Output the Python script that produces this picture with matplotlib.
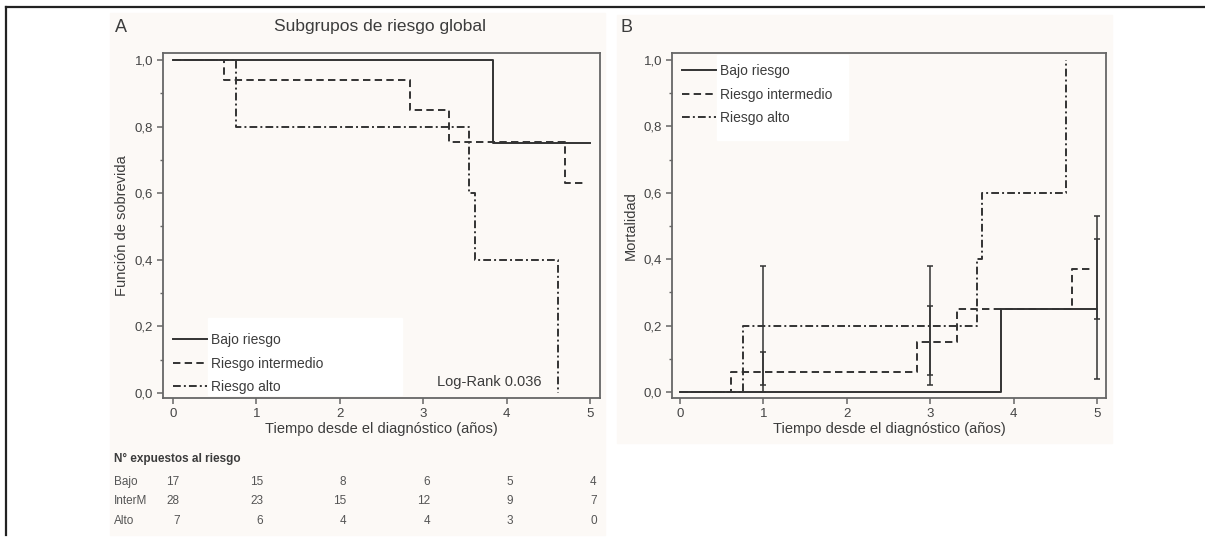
import numpy as np
import matplotlib
matplotlib.use("Agg")
import matplotlib.pyplot as plt
from matplotlib.patches import Rectangle
from matplotlib.lines import Line2D
from matplotlib.transforms import blended_transform_factory

plt.rcParams['font.family'] = ['Liberation Sans', 'DejaVu Sans']

# --- datos: curvas de supervivencia (panel A) ---
bajo_t = [0, 3.84, 5.0]
bajo_s = [1.0, 0.75, 0.75]
inter_t = [0, 0.61, 2.84, 3.31, 4.70, 4.92]
inter_s = [1.0, 0.94, 0.85, 0.755, 0.63, 0.63]
alto_t = [0, 0.75, 3.55, 3.62, 4.62]
alto_s = [1.0, 0.80, 0.60, 0.40, 0.0]

# --- datos: mortalidad (panel B) ---
bajo_mt = [0, 3.85, 5.0]
bajo_m = [0.0, 0.25, 0.25]
inter_mt = [0, 0.61, 2.84, 3.32, 4.70, 4.92]
inter_m = [0.0, 0.06, 0.15, 0.25, 0.37, 0.37]
alto_mt = [0, 0.755, 3.56, 3.62, 4.63]
alto_m = [0.0, 0.20, 0.40, 0.60, 1.0]

# intervalos de confianza (panel B)
ci_bajo_x = [5]
ci_bajo_lo = [0.04]
ci_bajo_hi = [0.46]
ci_inter_x = [1, 3, 5]
ci_inter_lo = [0.02, 0.05, 0.22]
ci_inter_hi = [0.12, 0.26, 0.53]
ci_alto_x = [1, 3]
ci_alto_lo = [0.0, 0.02]
ci_alto_hi = [0.38, 0.38]

# numero en riesgo
tabla_t = [0, 1, 2, 3, 4, 5]
tabla_grupos = ['Bajo', 'InterM', 'Alto']
riesgo_bajo = [17, 15, 8, 6, 5, 4]
riesgo_inter = [28, 23, 15, 12, 9, 7]
riesgo_alto = [7, 6, 4, 4, 3, 0]

etiquetas = ['Bajo riesgo', 'Riesgo intermedio', 'Riesgo alto']

W, H = 1205, 539
LC = '#333333'
TC = '#3c3c3c'
BG = '#fcf9f6'
DASH = (0, (3.8, 2.2))
DASHDOT = (0, (4.0, 1.6, 1.0, 1.6))
LW = 1.4


def fx(px):
    return px / W


def fy(py):
    return 1 - py / H


fig = plt.figure(figsize=(W / 100, H / 100), dpi=100)

# fondos y marco
fig.patches.append(Rectangle((fx(110), fy(535)), fx(605) - fx(110), fy(13) - fy(535),
                             transform=fig.transFigure, color=BG, zorder=-10))
fig.patches.append(Rectangle((fx(617), fy(443)), fx(1112) - fx(617), fy(15) - fy(443),
                             transform=fig.transFigure, color=BG, zorder=-10))
fig.lines.append(Line2D([fx(6), 1.0], [fy(7), fy(7)], transform=fig.transFigure, color='#222222', lw=1.6))
fig.lines.append(Line2D([fx(6), fx(6)], [fy(7), fy(535)], transform=fig.transFigure, color='#222222', lw=1.6))

axA = fig.add_axes([fx(163), fy(398), fx(600) - fx(163), fy(53) - fy(398)])
axB = fig.add_axes([fx(672), fy(398), fx(1106) - fx(672), fy(53) - fy(398)])


def estilo(ax, xlim, ylim, ylabel):
    ax.set_facecolor(BG)
    ax.set_xlim(*xlim)
    ax.set_ylim(*ylim)
    for s in ax.spines.values():
        s.set_color('#666666')
        s.set_linewidth(1.3)
    ax.set_xticks(range(6))
    ax.set_yticks(np.arange(0, 1.01, 0.2))
    ax.set_yticks(np.arange(0.1, 1.0, 0.2), minor=True)
    ax.set_yticklabels([f'{v:.1f}'.replace('.', ',') for v in np.arange(0, 1.01, 0.2)])
    ax.tick_params(axis='both', which='major', length=4, width=1.1, color='#666666',
                   labelsize=9.5, labelcolor='#444444', pad=3)
    ax.tick_params(axis='y', which='minor', length=2.5, width=1.0, color='#666666')
    ax.set_xlabel('Tiempo desde el diagnóstico (años)', fontsize=10.5, color=TC, labelpad=2)
    ax.set_ylabel(ylabel, fontsize=10.5, color=TC, labelpad=4)


# --- Panel A ---
estilo(axA, (-0.12, 5.12), (-0.015, 1.021), 'Función de sobrevida')
axA.step(bajo_t, bajo_s, where='post', color=LC, lw=LW, label=etiquetas[0])
axA.step(inter_t, inter_s, where='post', color=LC, lw=LW, linestyle=DASH, label=etiquetas[1])
axA.step(alto_t, alto_s, where='post', color=LC, lw=LW, linestyle=DASHDOT, label=etiquetas[2])
axA.add_patch(Rectangle((0.103, 0.009), 0.444, 0.223, transform=axA.transAxes,
                        color='white', zorder=0.5))
axA.legend(loc='lower left', bbox_to_anchor=(-0.005, -0.025), frameon=False, fontsize=10,
           handlelength=2.4, handletextpad=0.3, labelspacing=0.69, labelcolor=TC)
axA.text(0.865, 0.045, 'Log-Rank 0.036', transform=axA.transAxes, ha='right', va='center',
         fontsize=10.5, color=TC)

fig.text(fx(380), fy(27), 'Subgrupos de riesgo global', ha='center', va='center',
         fontsize=12.5, color=TC)
fig.text(fx(115), fy(27), 'A', ha='left', va='center', fontsize=13, color=TC)
fig.text(fx(621), fy(28), 'B', ha='left', va='center', fontsize=13, color=TC)

# tabla de expuestos al riesgo
fig.text(fx(114), fy(459), 'N° expuestos al riesgo', ha='left', va='center',
         fontsize=8.5, fontweight='bold', color=TC)
trans = blended_transform_factory(axA.transData, fig.transFigure)
for fila, (grupo, vals) in enumerate(zip(tabla_grupos, [riesgo_bajo, riesgo_inter, riesgo_alto])):
    yy = fy(482 + fila * 19.5)
    fig.text(fx(114), yy, grupo, ha='left', va='center', fontsize=8.5, color='#555555')
    for t, v in zip(tabla_t, vals):
        fig.text(t + 0.08, yy, str(v), ha='right', va='center', fontsize=8.5,
                 color='#555555', transform=trans)

# --- Panel B ---
estilo(axB, (-0.096, 5.108), (-0.018, 1.021), 'Mortalidad')
axB.step(bajo_mt, bajo_m, where='post', color=LC, lw=LW, label=etiquetas[0])
axB.step(inter_mt, inter_m, where='post', color=LC, lw=LW, linestyle=DASH, label=etiquetas[1])
axB.step(alto_mt, alto_m, where='post', color=LC, lw=LW, linestyle=DASHDOT, label=etiquetas[2])
for xs, lo, hi in [(ci_bajo_x, ci_bajo_lo, ci_bajo_hi),
                   (ci_inter_x, ci_inter_lo, ci_inter_hi),
                   (ci_alto_x, ci_alto_lo, ci_alto_hi)]:
    lo = np.array(lo)
    hi = np.array(hi)
    mid = (lo + hi) / 2
    axB.errorbar(xs, mid, yerr=[mid - lo, hi - mid], fmt='none', ecolor=LC,
                 elinewidth=1.1, capsize=2.2, capthick=1.1)
axB.add_patch(Rectangle((0.104, 0.748), 0.302, 0.246, transform=axB.transAxes,
                        color='white', zorder=0.5))
axB.legend(loc='upper left', bbox_to_anchor=(-0.005, 1.004), frameon=False, fontsize=10,
           handlelength=2.4, handletextpad=0.3, labelspacing=0.69, labelcolor=TC)

fig.savefig('out.png', dpi=100)
